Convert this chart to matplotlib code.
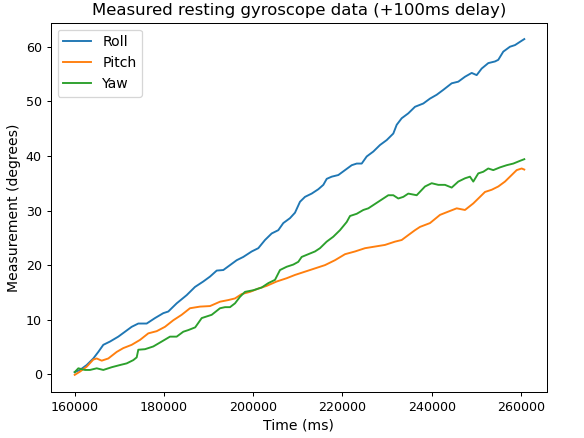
import matplotlib
matplotlib.use("Agg")
import matplotlib.pyplot as plt

# ---- data ----
roll_t = [160000, 161190, 162690, 164170, 165290, 166410, 167910, 169770, 171270,
          172770, 174250, 176130, 177990, 179850, 180970, 182850, 185090, 186950,
          188810, 190320, 191820, 193300, 194800, 196300, 197780, 199660, 201140,
          202640, 204140, 205620, 206740, 208240, 209360, 210480, 211600, 213100,
          214590, 215710, 216470, 217590, 219070, 220570, 222070, 223190, 224310,
          225430, 226910, 228410, 229910, 231390, 232150, 233270, 234750, 236250,
          238110, 239610, 241110, 242590, 244470, 245950, 247450, 248950, 250070,
          251190, 252670, 254170, 254910, 256030, 257530, 258660, 259780, 260740]
roll_v = [0.4, 0.8, 1.7, 2.9, 4.1, 5.4, 6.0, 6.9, 7.8,
          8.7, 9.3, 9.3, 10.3, 11.2, 11.5, 13.0, 14.5, 16.0,
          17.0, 17.9, 19.0, 19.1, 20.0, 20.9, 21.5, 22.5, 23.1,
          24.6, 25.8, 26.4, 27.7, 28.6, 29.6, 31.6, 32.5, 33.1,
          33.9, 34.7, 35.8, 36.2, 36.5, 37.4, 38.3, 38.6, 38.6,
          39.9, 40.8, 42.0, 42.9, 44.1, 45.7, 46.9, 47.8, 49.0,
          49.6, 50.5, 51.2, 52.1, 53.3, 53.6, 54.5, 55.2, 54.8,
          56.0, 57.0, 57.3, 57.6, 59.1, 60.0, 60.3, 60.9, 61.4]

pitch_t = [160000, 161190, 162690, 164170, 164930, 166050, 167530, 169410, 170890,
           172770, 174630, 176490, 178370, 180230, 182090, 183970, 185830, 188070,
           190320, 192560, 194420, 195920, 197420, 199280, 201140, 203020, 205260,
           207500, 209360, 211600, 213840, 216080, 218320, 220570, 222810, 225050,
           227290, 229530, 231770, 233270, 234750, 236250, 237370, 239610, 241850,
           243710, 245590, 247450, 249310, 250810, 251930, 253430, 254910, 256410,
           257910, 259030, 260150, 260740]
pitch_v = [-0.1, 0.5, 1.4, 2.7, 2.9, 2.5, 2.9, 4.1, 4.8,
           5.4, 6.3, 7.5, 7.9, 8.7, 9.9, 10.9, 12.1, 12.4,
           12.5, 13.3, 13.6, 13.9, 14.7, 15.1, 15.7, 16.2, 17.0,
           17.6, 18.2, 18.8, 19.4, 20.0, 20.9, 22.0, 22.5, 23.1,
           23.4, 23.7, 24.3, 24.6, 25.5, 26.4, 27.0, 27.7, 29.2,
           29.8, 30.4, 30.1, 31.3, 32.5, 33.4, 33.8, 34.4, 35.3,
           36.5, 37.4, 37.7, 37.5]

yaw_t = [160000, 160810, 162310, 163430, 164930, 166410, 168290, 170150, 171650,
         173130, 173890, 174250, 175750, 177610, 179490, 181350, 182850, 184330,
         185450, 187000, 188460, 190700, 192560, 193680, 194800, 195920, 197040,
         198160, 200020, 201900, 203380, 204880, 206000, 207500, 208980, 210100,
         210860, 212340, 213840, 214960, 216460, 217940, 219440, 220950, 221690,
         223190, 224670, 225790, 226910, 228030, 229150, 230270, 231390, 232510,
         233630, 234750, 236630, 238490, 239990, 241470, 242970, 244470, 245950,
         247450, 248570, 249310, 250430, 251550, 252670, 253790, 255290, 256790,
         258280, 259780, 260740]
yaw_v = [0.4, 1.1, 0.8, 0.8, 1.1, 0.8, 1.3, 1.7, 2.0,
         2.6, 3.1, 4.5, 4.6, 5.1, 6.0, 6.9, 6.9, 7.8,
         8.1, 8.6, 10.3, 10.9, 12.1, 12.3, 12.3, 13.0, 14.2,
         15.1, 15.4, 15.9, 16.7, 17.3, 19.1, 19.7, 20.1, 20.6,
         21.5, 22.0, 22.5, 23.1, 24.3, 25.2, 26.4, 27.9, 29.0,
         29.4, 30.1, 30.4, 31.0, 31.6, 32.2, 32.8, 32.8, 32.2,
         32.5, 33.1, 32.8, 34.4, 35.0, 34.7, 34.7, 34.2, 35.3,
         35.9, 36.2, 35.3, 36.8, 37.1, 37.7, 37.4, 37.9, 38.3,
         38.6, 39.1, 39.4]

series_labels = ["Roll", "Pitch", "Yaw"]
title = "Measured resting gyroscope data (+100ms delay)"
xlabel = "Time (ms)"
ylabel = "Measurement (degrees)"

fig = plt.figure(figsize=(6.4, 4.8), dpi=91.25)
ax = fig.add_axes([50.7 / 584, 1 - 392 / 438, 496 / 584, 369.3 / 438])
ax.plot(roll_t, roll_v, label=series_labels[0])
ax.plot(pitch_t, pitch_v, label=series_labels[1])
ax.plot(yaw_t, yaw_v, label=series_labels[2])
ax.set_xlim(154622, 265760)
ax.set_ylim(-3.24, 64.4)
ax.set_title(title, fontsize=13)
ax.set_xlabel(xlabel, fontsize=11)
ax.set_ylabel(ylabel, fontsize=11)
ax.legend(loc="upper left", fontsize=11)
fig.savefig("out.png", dpi=91.25)
